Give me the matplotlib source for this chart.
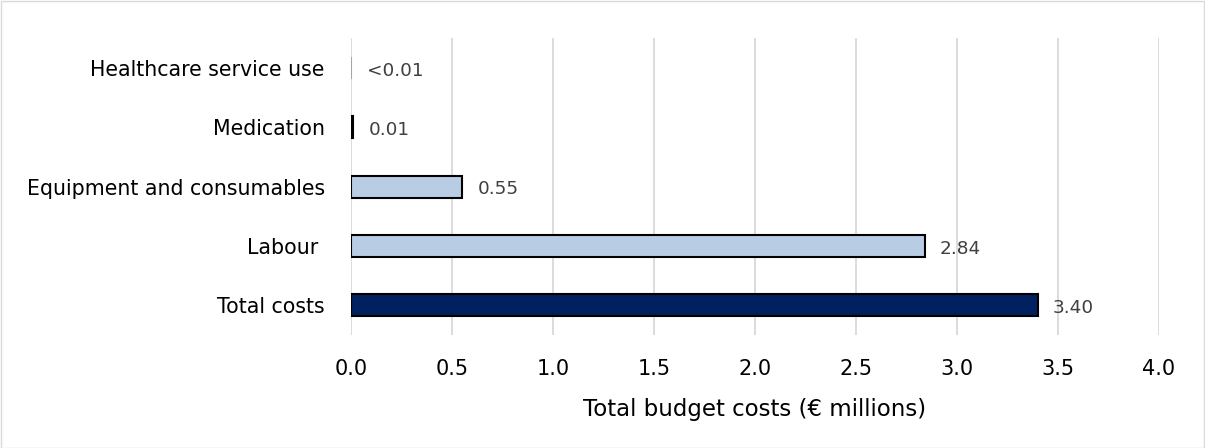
import matplotlib.pyplot as plt
import numpy as np

categories = ['Total costs', 'Labour ', 'Equipment and consumables', 'Medication', 'Healthcare service use']
values = [3.40, 2.84, 0.55, 0.01, 0.002]
labels = ['3.40', '2.84', '0.55', '0.01', '<0.01']
fills = ['#002060', '#B8CCE4', '#B8CCE4', '#B8CCE4', '#B8CCE4']
edges = ['black', 'black', 'black', 'black', '#A6A6A6']
xticks = [0.0, 0.5, 1.0, 1.5, 2.0, 2.5, 3.0, 3.5, 4.0]

plt.rcParams['font.family'] = ['DejaVu Sans']
fig = plt.figure(figsize=(12.05, 4.48), dpi=100)
fig.patches.append(plt.Rectangle((0.0008, 0.001), 0.998, 0.997, transform=fig.transFigure,
                                 fill=False, edgecolor='#D9D9D9', linewidth=1))
ax = fig.add_axes([0.2913, 0.252, 0.6705, 0.663])

y = np.arange(len(categories))
ax.barh(y, values, height=0.37, color=fills, edgecolor=edges, linewidth=1.5, zorder=3)
for yi, v, lab in zip(y, values, labels):
    ax.annotate(lab, (v, yi), xytext=(11, -2), textcoords='offset points',
                va='center', ha='left', fontsize=13.3, color='#404040')

ax.set_xlim(0, 4.0)
ax.set_ylim(-0.5, 4.5)
ax.set_xticks(xticks)
ax.set_xticklabels([f'{t:.1f}' for t in xticks], fontsize=15)
ax.set_yticks(y)
ax.set_yticklabels(categories, fontsize=14.8)
ax.tick_params(axis='both', length=0)
ax.tick_params(axis='x', pad=17)
ax.tick_params(axis='y', pad=19)
ax.grid(axis='x', color='#D9D9D9', linewidth=1.3, zorder=0)
for s in ax.spines.values():
    s.set_visible(False)
ax.set_xlabel('Total budget costs (€ millions)', fontsize=16.5, labelpad=14)

fig.savefig('out.png', dpi=100)
